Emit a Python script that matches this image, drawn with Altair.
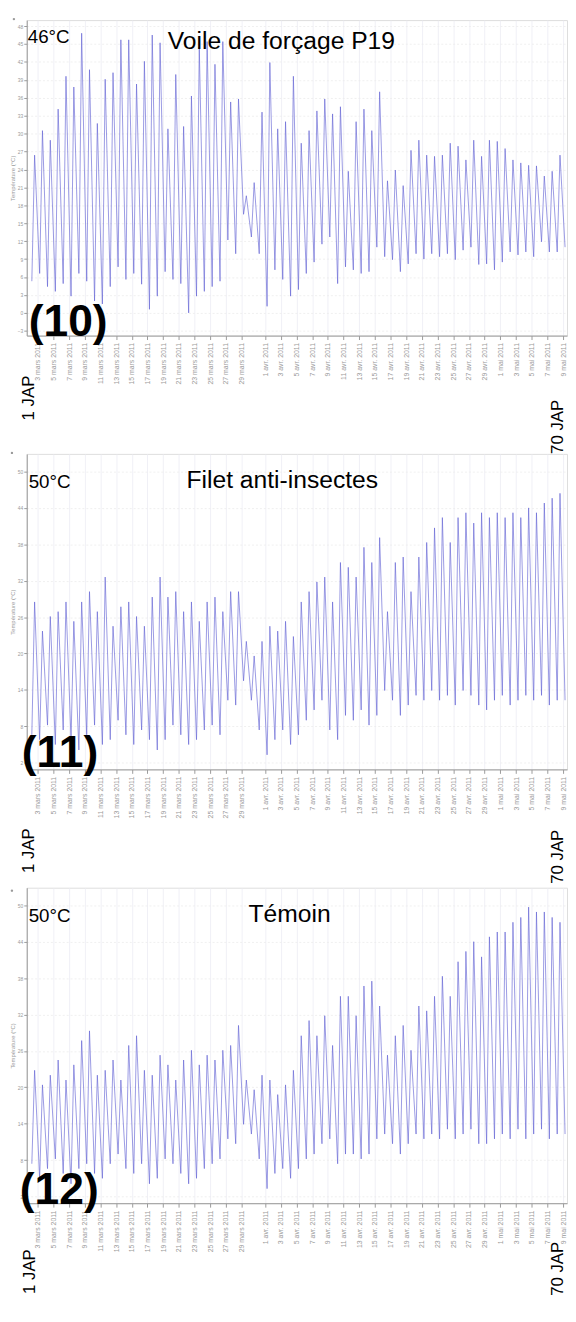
import json
import altair as alt
import pandas as pd

# ---------------- data ----------------
# x tick positions (days after 1 March, 0h) and their labels
tick_days = [2, 4, 6, 8, 10, 12, 14, 16, 18, 20, 22, 24, 26, 28,
             31, 33, 35, 37, 39, 41, 43, 45, 47, 49, 51, 53, 55, 57, 59,
             61, 63, 65, 67, 69]
tick_labels = ["3 mars 2011", "5 mars 2011", "7 mars 2011", "9 mars 2011", "11 mars 2011",
               "13 mars 2011", "15 mars 2011", "17 mars 2011", "19 mars 2011", "21 mars 2011",
               "23 mars 2011", "25 mars 2011", "27 mars 2011", "29 mars 2011",
               "1 avr. 2011", "3 avr. 2011", "5 avr. 2011", "7 avr. 2011", "9 avr. 2011",
               "11 avr. 2011", "13 avr. 2011", "15 avr. 2011", "17 avr. 2011", "19 avr. 2011",
               "21 avr. 2011", "23 avr. 2011", "25 avr. 2011", "27 avr. 2011", "29 avr. 2011",
               "1 mai 2011", "3 mai 2011", "5 mai 2011", "7 mai 2011", "9 mai 2011"]

# day numbers (days after 1 March) of each daily minimum / maximum
min_days = list(range(1, 70))
max_days = list(range(1, 69))
HOUR_MIN = 6.0
HOUR_MAX = 14.5

# Panel (10) Voile de forcage P19
voile_max = [26.4, 30.5, 28.9, 34.1, 39.6, 37.8, 46.8, 40.7, 31.7, 39.1,
             40.2, 45.7, 45.7, 38.3, 42.1, 46.5, 45.2, 30.8, 39.9, 31.2,
             36.3, 44.5, 45.4, 41.6, 45.4, 35.3, 35.8, 19.6, 21.8, 33.6,
             41.9, 30.8, 32.0, 39.6, 28.4, 30.5, 33.8, 35.8, 33.3, 34.5,
             23.7, 32.0, 34.1, 30.5, 37.0, 22.1, 23.9, 21.3, 27.2, 28.9,
             26.4, 26.2, 26.4, 28.4, 27.9, 25.6, 28.9, 26.2, 28.9, 28.7,
             27.5, 25.6, 25.1, 24.7, 24.6, 22.9, 23.7, 26.4]
voile_min = [5.3, 6.6, 4.4, 3.6, 4.9, 2.8, 6.6, 5.3, 2.0, 1.5,
             4.4, 7.7, 5.6, 6.6, 4.8, 0.6, 2.8, 6.9, 5.6, 4.9,
             0.0, 2.8, 3.6, 4.4, 5.3, 12.2, 9.9, 16.5, 12.7, 9.9,
             1.1, 7.2, 5.6, 2.8, 3.9, 6.6, 8.5, 11.5, 12.7, 4.9,
             7.7, 7.2, 6.6, 6.9, 11.0, 9.4, 8.9, 6.9, 8.2, 9.9,
             9.0, 9.9, 9.4, 9.9, 8.9, 10.5, 11.0, 8.1, 8.2, 7.2,
             8.5, 10.2, 9.7, 10.2, 9.4, 11.9, 10.2, 10.2, 11.0]

# Panel (11) Filet anti-insectes
filet_max = [28.5, 23.7, 26.1, 26.9, 28.5, 25.3, 28.5, 30.2, 26.9, 32.6,
             24.5, 27.7, 28.5, 26.1, 24.5, 29.3, 32.6, 29.3, 30.2, 26.9,
             28.5, 25.3, 28.5, 29.3, 26.9, 30.2, 30.2, 22.0, 19.6, 22.0,
             24.5, 23.7, 25.3, 22.8, 28.5, 30.2, 31.8, 32.6, 28.5, 35.0,
             34.2, 32.6, 37.5, 35.0, 39.1, 26.9, 35.0, 35.9, 30.2, 35.9,
             38.3, 40.7, 42.4, 38.3, 42.4, 43.2, 41.5, 43.2, 42.4, 43.2,
             42.4, 43.2, 42.4, 44.0, 43.2, 44.8, 45.6, 46.4]
filet_min = [6.6, 5.8, 8.2, 5.0, 7.4, 5.8, 4.1, 6.6, 8.2, 5.0,
             5.8, 9.0, 6.6, 5.0, 7.4, 5.8, 4.1, 5.8, 8.2, 6.6,
             5.0, 5.8, 7.4, 8.2, 6.6, 12.3, 11.5, 15.5, 12.3, 7.4,
             3.3, 5.8, 7.4, 5.0, 6.6, 9.0, 10.7, 12.3, 7.4, 5.8,
             9.8, 9.0, 10.7, 8.2, 9.8, 13.9, 12.3, 9.8, 11.5, 13.1,
             12.3, 13.9, 12.3, 13.1, 11.5, 13.9, 13.1, 11.5, 10.7, 12.3,
             13.1, 11.5, 12.3, 13.1, 12.3, 13.1, 11.5, 12.3, 12.3]

# Panel (12) Temoin
temoin_max = [22.8, 20.4, 22.0, 24.5, 21.2, 23.7, 27.7, 29.3, 22.0, 22.8,
              24.5, 21.2, 26.9, 28.5, 22.8, 22.0, 25.3, 23.7, 21.2, 24.5,
              26.1, 23.7, 25.3, 24.5, 26.1, 26.9, 30.2, 21.2, 19.6, 22.0,
              21.2, 18.8, 20.4, 22.8, 28.5, 31.0, 28.5, 31.8, 26.9, 35.0,
              35.0, 31.8, 36.7, 37.5, 33.4, 25.3, 28.5, 30.2, 26.1, 33.4,
              32.6, 35.0, 38.3, 35.0, 40.7, 42.4, 44.0, 41.5, 44.8, 45.6,
              45.6, 47.2, 48.0, 49.7, 48.9, 48.9, 48.0, 47.2]
temoin_min = [7.4, 5.0, 6.6, 8.2, 5.8, 4.1, 6.6, 7.4, 5.8, 5.0,
              7.4, 9.0, 6.6, 5.8, 7.4, 4.1, 5.0, 8.2, 7.4, 5.8,
              4.1, 5.0, 6.6, 7.4, 8.2, 11.5, 10.7, 13.9, 12.3, 8.2,
              3.3, 5.8, 6.6, 5.0, 6.6, 8.2, 9.0, 10.7, 11.5, 7.4,
              9.0, 9.0, 8.2, 9.0, 11.5, 12.3, 10.7, 9.0, 10.7, 12.3,
              11.5, 12.3, 11.5, 13.1, 11.5, 12.3, 13.1, 10.7, 10.7, 11.5,
              12.3, 11.5, 13.1, 11.5, 12.3, 13.1, 11.5, 12.3, 12.3]

y_ticks_voile = [-3, 0, 3, 6, 9, 12, 15, 18, 21, 24, 27, 30, 33, 36, 39, 42, 45, 48]
y_ticks_50 = [2, 8, 14, 20, 26, 32, 38, 44, 50]

# ---------------- style ----------------
FONT = "Liberation Sans"
LINE_COLOR = "#6262d4"
GREY = "#9a9a9a"
X_DOMAIN = [0.6, 69.5]
W, H = 548, 320

label_expr = "{}[indexof({}, datum.value)]".format(json.dumps(tick_labels, ensure_ascii=False),
                                                  json.dumps(tick_days))


def series(tmin, tmax):
    rows = []
    for i, d in enumerate(min_days):
        rows.append({"t": d + HOUR_MIN / 24.0, "temp": tmin[i]})
        if i < len(max_days):
            rows.append({"t": max_days[i] + HOUR_MAX / 24.0, "temp": tmax[i]})
    return pd.DataFrame(rows)


def txt(text, x, y, size, angle=0, bold=False, align="left", baseline="alphabetic", color="black"):
    kw = dict(text=text, font=FONT, fontSize=size, align=align, baseline=baseline,
              color=color, fontWeight="bold" if bold else "normal")
    if angle:
        kw["angle"] = angle
    return alt.Chart(alt.Data(values=[{}])).mark_text(**kw).encode(
        x=alt.value(x), y=alt.value(y))


def dot(x, y):
    return alt.Chart(alt.Data(values=[{}])).mark_circle(size=6, color=GREY, opacity=1).encode(
        x=alt.value(x), y=alt.value(y))


def panel(tmin, tmax, ydomain, yticks, annotations):
    df = series(tmin, tmax)
    line = alt.Chart(df).mark_line(color=LINE_COLOR, strokeWidth=0.8, opacity=0.8,
                                   clip=True).encode(
        x=alt.X("t:Q", title=None,
                scale=alt.Scale(domain=X_DOMAIN, nice=False, zero=False),
                axis=alt.Axis(values=tick_days, labelExpr=label_expr, labelAngle=270,
                              labelFontSize=7, labelColor=GREY, labelFont=FONT,
                              labelOverlap=False, labelFlush=False, labelPadding=3,
                              tickColor=GREY, tickSize=4, domainColor=GREY,
                              grid=True, gridColor="#ececf4", gridWidth=0.8)),
        y=alt.Y("temp:Q",
                scale=alt.Scale(domain=ydomain, nice=False, zero=False),
                axis=alt.Axis(values=yticks, title="Température (°C)", titleFontSize=6,
                              titleFont=FONT, titleColor=GREY, titleFontWeight="normal",
                              titlePadding=2, labelFontSize=5, labelColor=GREY,
                              labelFont=FONT, labelPadding=1, tickSize=3, tickColor=GREY,
                              domainColor=GREY, grid=True, gridColor="#ececec",
                              gridWidth=0.8, gridDash=[2, 2])))
    layers = [line] + annotations
    return alt.layer(*layers).properties(width=W, height=H)


p1 = panel(voile_min, voile_max, [-3.8, 49.0], y_ticks_voile, [
    dot(-13, -1),
    txt("46°C", 1, 23, 19),
    txt("Voile de forçage P19", 143, 29, 25),
    txt("(10)", 2, 320, 45, bold=True),
    txt("1 JAP", 2, 406, 17, angle=270, baseline="middle"),
    txt("70 JAP", 539, 440, 17, angle=270, baseline="middle"),
])
p2 = panel(filet_min, filet_max, [0.9, 52.9], y_ticks_50, [
    dot(-15, -1),
    txt("50°C", 2, 35, 19),
    txt("Filet anti-insectes", 162, 35, 25),
    txt("(11)", -5, 318, 45, bold=True),
    txt("1 JAP", 2, 425, 17, angle=270, baseline="middle"),
    txt("70 JAP", 539, 436, 17, angle=270, baseline="middle"),
])
p3 = panel(temoin_min, temoin_max, [0.9, 52.9], y_ticks_50, [
    dot(-15, 3),
    txt("50°C", 2, 35, 19),
    txt("Témoin", 225, 35, 25),
    txt("(12)", -7, 321, 45, bold=True),
    txt("1 JAP", 3, 412, 17, angle=270, baseline="middle"),
    txt("70 JAP", 539, 414, 17, angle=270, baseline="middle"),
])

chart = alt.vconcat(p1, p2, p3, spacing=120, bounds="flush").properties(
    padding={"left": 0, "top": 0, "right": 0, "bottom": 0}
).configure_view(stroke=None).configure(background="white")

chart.save("out.html", embed_options={"renderer": "svg", "actions": False})
